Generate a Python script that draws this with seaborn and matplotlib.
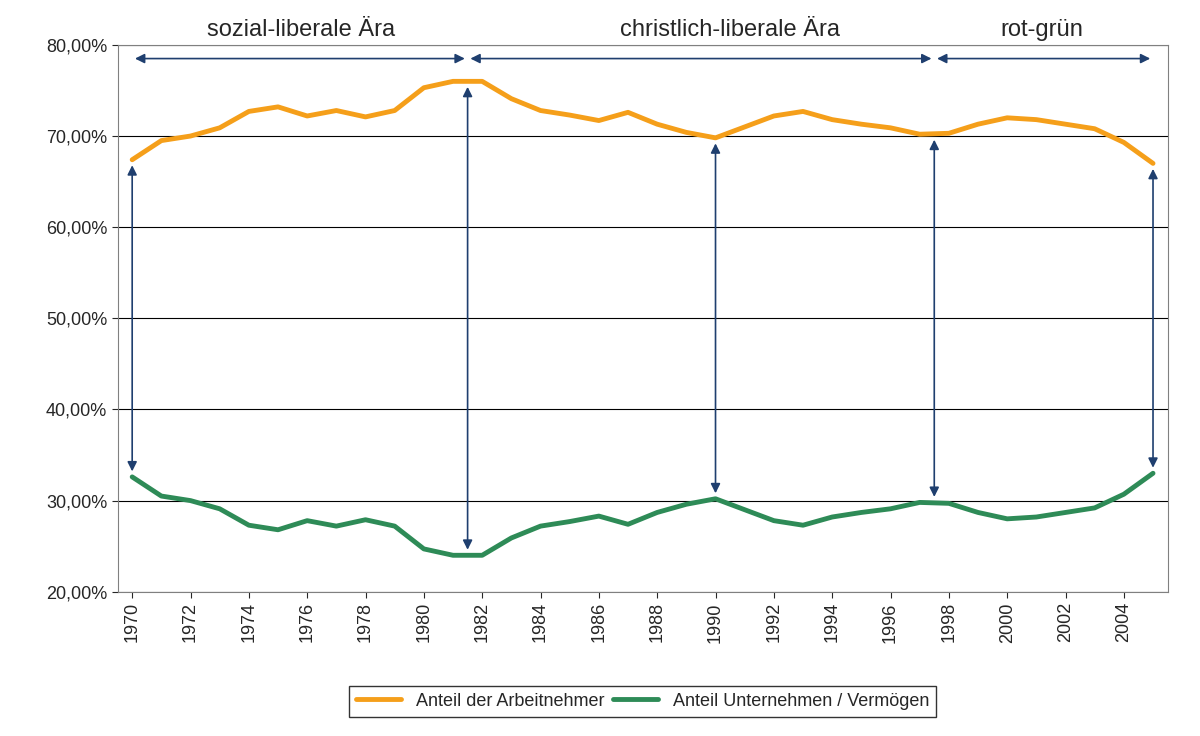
import matplotlib
matplotlib.use("Agg")
import matplotlib.pyplot as plt
import seaborn as sns
import pandas as pd
from matplotlib.ticker import FuncFormatter

years = list(range(1970, 2006))
arbeitnehmer = [67.4, 69.5, 70.0, 70.9, 72.7, 73.2, 72.2, 72.8, 72.1, 72.8, 75.3, 76.0,
                76.0, 74.1, 72.8, 72.3, 71.7, 72.6, 71.3, 70.4, 69.8, 71.0, 72.2, 72.7,
                71.8, 71.3, 70.9, 70.2, 70.3, 71.3, 72.0, 71.8, 71.3, 70.8, 69.3, 67.0]
unternehmen = [32.6, 30.5, 30.0, 29.1, 27.3, 26.8, 27.8, 27.2, 27.9, 27.2, 24.7, 24.0,
               24.0, 25.9, 27.2, 27.7, 28.3, 27.4, 28.7, 29.6, 30.2, 29.0, 27.8, 27.3,
               28.2, 28.7, 29.1, 29.8, 29.7, 28.7, 28.0, 28.2, 28.7, 29.2, 30.7, 33.0]
eras = ["sozial-liberale Ära", "christlich-liberale Ära", "rot-grün"]
era_bounds = [1970, 1981.5, 1997.5, 2005]
era_label_x = [1975.8, 1990.5, 2001.2]
vert_arrows = [1970, 1981.5, 1990, 1997.5, 2005]

sns.set_style("white")
plt.rcParams['font.family'] = ['Liberation Sans', 'DejaVu Sans']

fig = plt.figure(figsize=(12, 7.36), dpi=100)
ax = fig.add_axes([0.098, 0.196, 0.875, 0.743])

df = pd.DataFrame({"Jahr": years * 2,
                   "Wert": arbeitnehmer + unternehmen,
                   "Serie": ["Anteil der Arbeitnehmer"] * len(years) + ["Anteil Unternehmen / Vermögen"] * len(years)})
sns.lineplot(data=df, x="Jahr", y="Wert", hue="Serie", palette=["#F59F1A", "#2E8B57"],
             linewidth=3.5, ax=ax)

ax.set_xlim(1969.5, 2005.5)
ax.set_ylim(20, 80)
ax.set_yticks(range(20, 81, 10))
ax.yaxis.set_major_formatter(FuncFormatter(lambda v, p: f"{v:.2f}%".replace(".", ",")))
ax.set_xticks(range(1970, 2005, 2))
ax.tick_params(axis='x', rotation=90, labelsize=13, length=4)
ax.tick_params(axis='y', labelsize=13, length=4)
ax.tick_params(left=True, bottom=True)
ax.grid(axis='y', color='black', linewidth=0.8)
ax.set_xlabel("")
ax.set_ylabel("")
for s in ax.spines.values():
    s.set_color('#808080')

arrowprops = dict(arrowstyle="<|-|>", color="#1F3F6F", lw=1.2, mutation_scale=14)
for i in range(3):
    ax.annotate("", xy=(era_bounds[i], 78.5), xytext=(era_bounds[i + 1], 78.5), arrowprops=arrowprops)
    ax.text(era_label_x[i], 80.4, eras[i], ha='center', va='bottom',
            fontsize=17, clip_on=False)
for x in vert_arrows:
    i = min(range(len(years)), key=lambda k: abs(years[k] - x))
    ax.annotate("", xy=(x, unternehmen[i] + 0.3), xytext=(x, arbeitnehmer[i] - 0.3), arrowprops=arrowprops)

leg = ax.legend(loc='upper center', bbox_to_anchor=(0.5, -0.155), ncol=2, frameon=True,
                fontsize=13, fancybox=False, edgecolor='black', handlelength=2.5, columnspacing=0.5)
for l in leg.get_lines():
    l.set_linewidth(3.5)

fig.savefig("out.png", dpi=100)
